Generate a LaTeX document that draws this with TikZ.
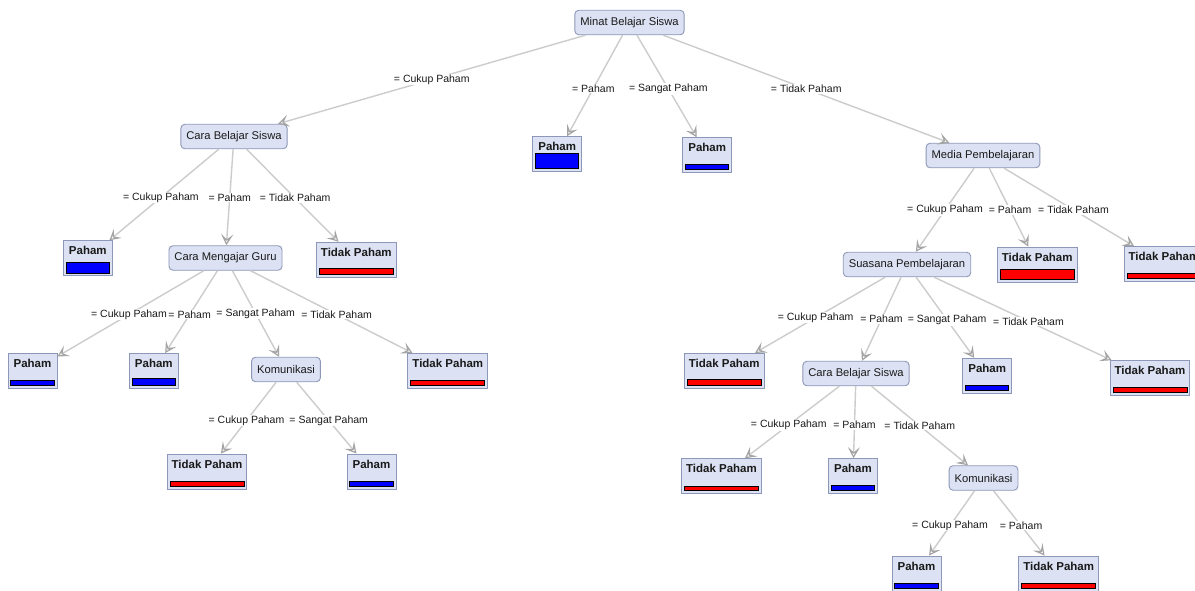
\documentclass[tikz,border=0pt]{standalone}
\usepackage{fontspec}
\setmainfont{Liberation Sans}
\usetikzlibrary{arrows.meta,calc}
\definecolor{nodefill}{HTML}{DCE2F3}
\definecolor{nodedraw}{HTML}{8D98B8}
\definecolor{edgecol}{HTML}{CCCCCC}
\definecolor{arrowcol}{HTML}{A4A4A4}
\definecolor{txt}{HTML}{1A1A1A}
\newcommand\lbar[3]{\draw[#2] ([xshift=3.3pt,yshift=3.3pt]#1.south west) rectangle ([xshift=-3.3pt,yshift=3.3pt+#3]#1.south east);}
\begin{document}
\begin{tikzpicture}[x=1pt,y=-1pt,
 inner/.style={draw=nodedraw, fill=nodefill, rounded corners=4pt, minimum height=24.5pt, inner xsep=5.5pt, inner ysep=0pt, font=\fontsize{11.2}{13}\selectfont, text=txt, line width=0.9pt},
 leaf/.style={draw=nodedraw, fill=nodefill, minimum width=49pt, inner xsep=4.5pt, inner ysep=2pt, text height=12pt, text depth=19pt, font=\fontsize{11.5}{13}\selectfont\bfseries, text=txt, line width=0.9pt},
 edge/.style={draw=edgecol, line width=1.4pt, -{Stealth[open,length=11pt,width=12pt,inset=5pt,color=arrowcol,line width=1.2pt]}},
 elabel/.style={fill=white, inner sep=0.8pt, font=\fontsize{10.5}{12}\selectfont, text=txt},
 barB/.style={fill=blue, draw=black, line width=0.8pt},
 barR/.style={fill=red, draw=black, line width=0.8pt}]
\useasboundingbox[fill=white] (0,0) rectangle (1195,590);

% inner nodes
\node[inner] (root) at (629.5,22.5) {Minat Belajar Siswa};
\node[inner] (cbs1) at (234,136.5) {Cara Belajar Siswa};
\node[inner] (cmg) at (225.5,258) {Cara Mengajar Guru};
\node[inner] (kom1) at (286,369.5) {Komunikasi};
\node[inner] (media) at (983,155.5) {Media Pembelajaran};
\node[inner] (sua) at (907,264.5) {Suasana Pembelajaran};
\node[inner] (cbs2) at (856,373.5) {Cara Belajar Siswa};
\node[inner] (kom2) at (983.5,478) {Komunikasi};

% leaves
\node[leaf] (l1) at (557.2,154.2) {Paham};
\node[leaf] (l2) at (707.2,155.2) {Paham};
\node[leaf] (l3) at (87.8,258.3) {Paham};
\node[leaf] (l4) at (356.3,259.7) {Tidak Paham};
\node[leaf] (l5) at (32.5,371) {Paham};
\node[leaf] (l6) at (153.8,371) {Paham};
\node[leaf] (l7) at (447.8,371) {Tidak Paham};
\node[leaf] (l8) at (207,471.5) {Tidak Paham};
\node[leaf] (l9) at (371.5,471.5) {Paham};
\node[leaf] (l10) at (1037.2,264.5) {Tidak Paham};
\node[leaf] (l11) at (1164,264.2) {Tidak Paham};
\node[leaf] (l12) at (724.2,370.8) {Tidak Paham};
\node[leaf] (l13) at (987.2,375.8) {Paham};
\node[leaf] (l14) at (1150,378.2) {Tidak Paham};
\node[leaf] (l15) at (721.5,476.2) {Tidak Paham};
\node[leaf] (l16) at (853,476.2) {Paham};
\node[leaf] (l17) at (916.5,573.5) {Paham};
\node[leaf] (l18) at (1058.7,573.5) {Tidak Paham};

% bars
\lbar{l1}{barB}{15pt}
\lbar{l2}{barB}{5pt}
\lbar{l3}{barB}{10.7pt}
\lbar{l4}{barR}{6pt}
\lbar{l5}{barB}{5.5pt}
\lbar{l6}{barB}{7.5pt}
\lbar{l7}{barR}{5.5pt}
\lbar{l8}{barR}{5pt}
\lbar{l9}{barB}{5pt}
\lbar{l10}{barR}{10pt}
\lbar{l11}{barR}{5.5pt}
\lbar{l12}{barR}{6.5pt}
\lbar{l13}{barB}{5pt}
\lbar{l14}{barR}{5pt}
\lbar{l15}{barR}{4.7pt}
\lbar{l16}{barB}{5pt}
\lbar{l17}{barB}{4.7pt}
\lbar{l18}{barR}{4.7pt}

% edges
\draw[edge] (root) -- (cbs1);
\draw[edge] (root) -- (l1);
\draw[edge] (root) -- (l2);
\draw[edge] (root) -- (media);
\draw[edge] (cbs1) -- (l3);
\draw[edge] (cbs1) -- (cmg);
\draw[edge] (cbs1) -- (l4);
\draw[edge] (cmg) -- (l5);
\draw[edge] (cmg) -- (l6);
\draw[edge] (cmg) -- (kom1);
\draw[edge] (cmg) -- (l7);
\draw[edge] (kom1) -- (l8);
\draw[edge] (kom1) -- (l9);
\draw[edge] (media) -- (sua);
\draw[edge] (media) -- (l10);
\draw[edge] (media) -- (l11);
\draw[edge] (sua) -- (l12);
\draw[edge] (sua) -- (cbs2);
\draw[edge] (sua) -- (l13);
\draw[edge] (sua) -- (l14);
\draw[edge] (cbs2) -- (l15);
\draw[edge] (cbs2) -- (l16);
\draw[edge] (cbs2) -- (kom2);
\draw[edge] (kom2) -- (l17);
\draw[edge] (kom2) -- (l18);

% edge labels
\node[elabel] at ($(root)!.5!(cbs1)$) {= Cukup Paham};
\node[elabel] at ($(root)!.5!(l1)$) {= Paham};
\node[elabel] at ($(root)!.5!(l2)$) {= Sangat Paham};
\node[elabel] at ($(root)!.5!(media)$) {= Tidak Paham};
\node[elabel] at ($(cbs1)!.5!(l3)$) {= Cukup Paham};
\node[elabel] at ($(cbs1)!.5!(cmg)$) {= Paham};
\node[elabel] at ($(cbs1)!.5!(l4)$) {= Tidak Paham};
\node[elabel] at ($(cmg)!.5!(l5)$) {= Cukup Paham};
\node[elabel] at ($(cmg)!.5!(l6)$) {= Paham};
\node[elabel] at ($(cmg)!.5!(kom1)$) {= Sangat Paham};
\node[elabel] at ($(cmg)!.5!(l7)$) {= Tidak Paham};
\node[elabel] at ($(kom1)!.5!(l8)$) {= Cukup Paham};
\node[elabel] at ($(kom1)!.5!(l9)$) {= Sangat Paham};
\node[elabel] at ($(media)!.5!(sua)$) {= Cukup Paham};
\node[elabel] at ($(media)!.5!(l10)$) {= Paham};
\node[elabel] at ($(media)!.5!(l11)$) {= Tidak Paham};
\node[elabel] at ($(sua)!.5!(l12)$) {= Cukup Paham};
\node[elabel] at ($(sua)!.5!(cbs2)$) {= Paham};
\node[elabel] at ($(sua)!.5!(l13)$) {= Sangat Paham};
\node[elabel] at ($(sua)!.5!(l14)$) {= Tidak Paham};
\node[elabel] at ($(cbs2)!.5!(l15)$) {= Cukup Paham};
\node[elabel] at ($(cbs2)!.5!(l16)$) {= Paham};
\node[elabel] at ($(cbs2)!.5!(kom2)$) {= Tidak Paham};
\node[elabel] at ($(kom2)!.5!(l17)$) {= Cukup Paham};
\node[elabel] at ($(kom2)!.5!(l18)$) {= Paham};
\end{tikzpicture}
\end{document}
